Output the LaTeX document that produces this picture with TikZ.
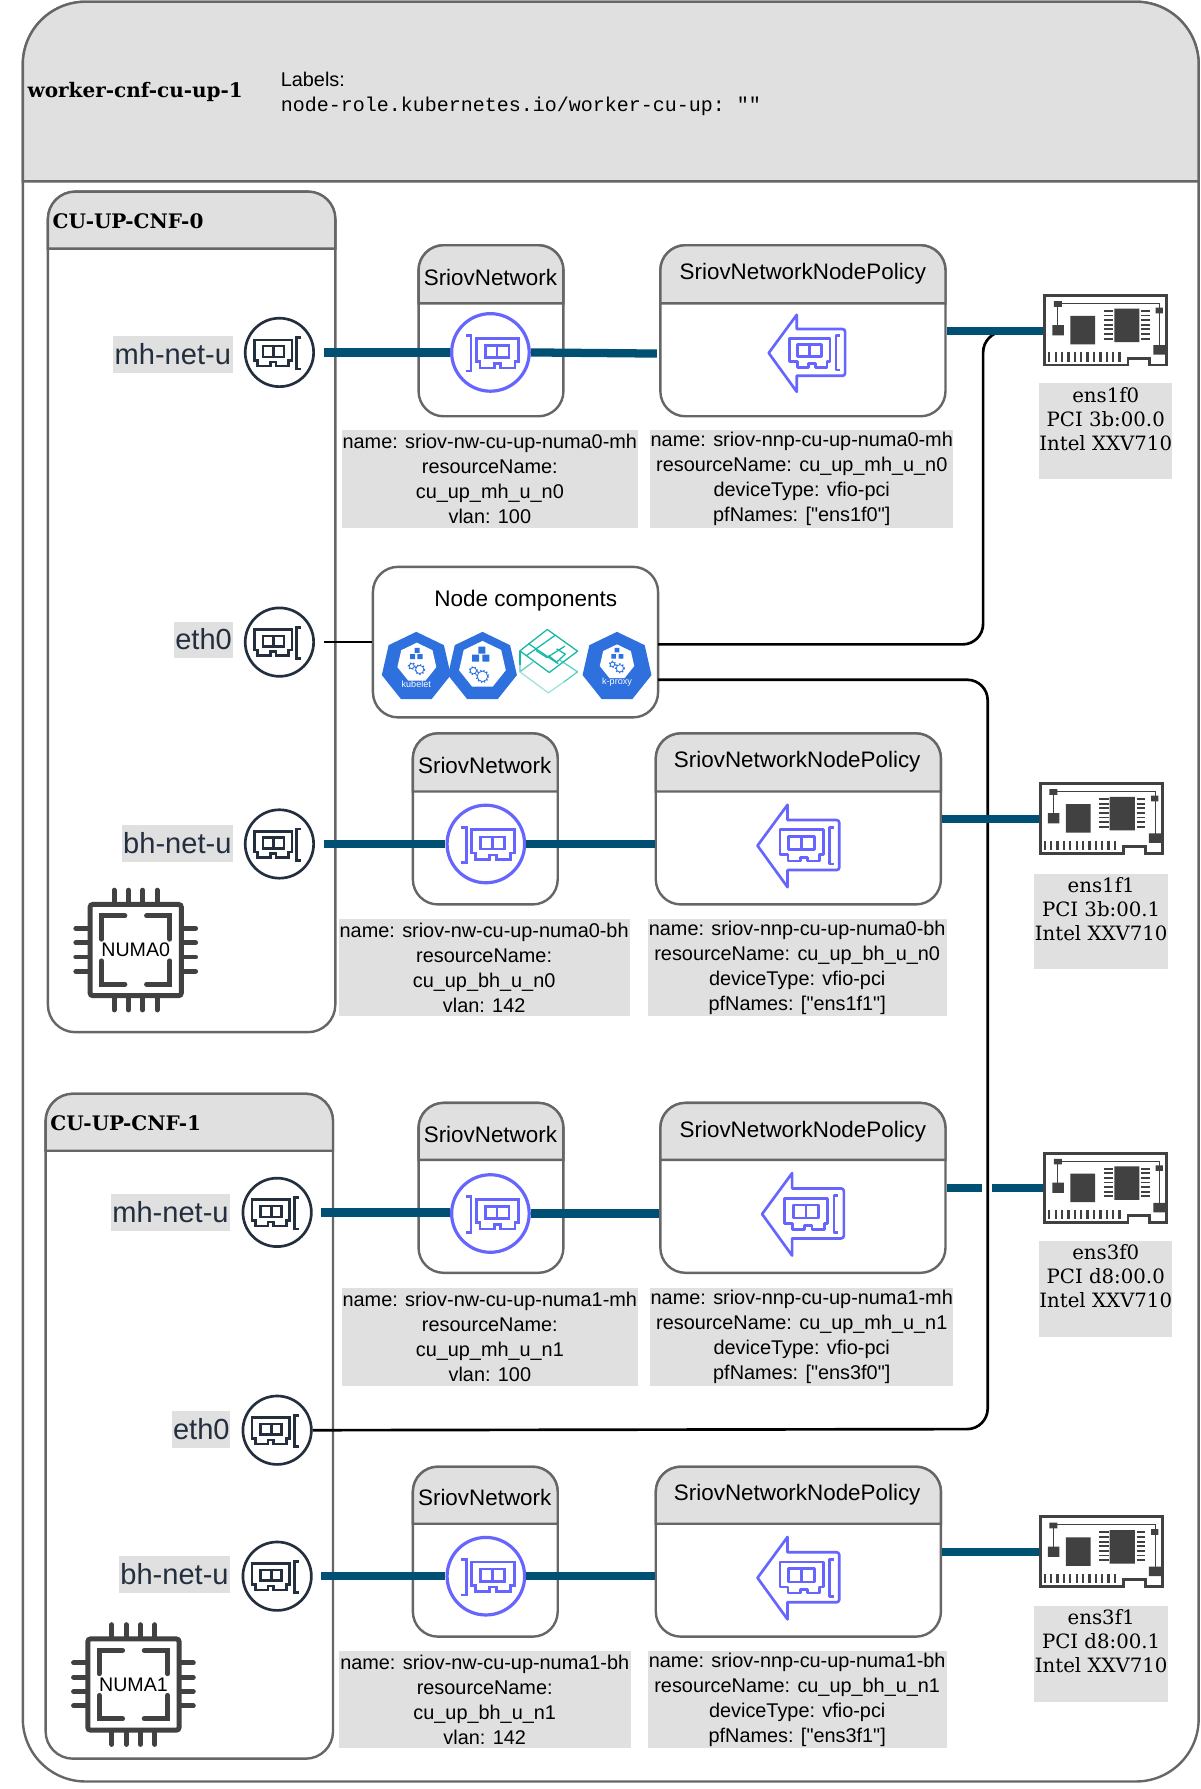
\documentclass[tikz,border=0pt]{standalone}
\usepackage{fontspec}
\usetikzlibrary{shapes.geometric,calc}
\setmainfont{Liberation Sans}
\setmonofont{Liberation Mono}
\newfontfamily\plainsans{Liberation Sans}
\newfontfamily\serifface{DejaVu Serif}
\definecolor{headgrey}{HTML}{E0E0E0}
\definecolor{frame}{HTML}{666666}
\definecolor{linkblue}{HTML}{005073}
\definecolor{violetline}{HTML}{6666FF}
\definecolor{inkdark}{HTML}{232F3E}
\definecolor{hwgrey}{HTML}{414141}
\definecolor{kblue}{HTML}{2D70DE}
\definecolor{tealline}{HTML}{14B8A6}
\definecolor{tealmid}{HTML}{5CCFC2}
\definecolor{tealpale}{HTML}{9FE3DA}
\def\UU{0.8554pt}
\tikzset{
  panelframe/.style={draw=frame,fill=white,line width=1.8pt,inner sep=0pt},
  panelhead/.style={draw=frame,fill=headgrey,line width=1.8pt},
  greyblock/.style={fill=headgrey,inner sep=0pt,align=center,font=\plainsans\fontsize{14.9}{18.8}\selectfont},
  netlabel/.style={fill=headgrey,inner sep=0pt,text=inkdark,font=\fontsize{21.8}{24}\selectfont},
  niclabel/.style={fill=headgrey,inner sep=0pt,align=center,font=\serifface\fontsize{14.8}{18}\selectfont},
  boxtitle/.style={inner sep=0pt,font=\fontsize{16.8}{20}\selectfont},
  cnftitle/.style={inner sep=0pt,anchor=west,font=\serifface\bfseries\fontsize{15}{18}\selectfont},
  ifdark/.style={circle,draw=inkdark,line width=2pt,fill=white,minimum size={60*\UU},inner sep=0pt},
  ifviolet/.style={circle,draw=violetline,line width=2.4pt,fill=white,minimum size={68*\UU},inner sep=0pt},
  thicklink/.style={draw=linkblue,line width=6.2pt},
  thinlink/.style={draw=black,line width=2pt,rounded corners=15.4pt},
  nicspot/.style={minimum width={109*\UU},minimum height={64*\UU},inner sep=0pt},
  kubehex/.style={regular polygon,regular polygon sides=7,fill=kblue,inner sep=0pt},
  kubeinner/.style={regular polygon,regular polygon sides=7,fill=white,inner sep=0pt},
  kubetext/.style={inner sep=0pt,text=white,font=\fontsize{6.8}{8}\selectfont},
}
% name x1 y1 x2 y2 yhead radius
\newcommand\panelbox[7]{%
  \node[panelframe,minimum width={(#4-#2)*\UU},minimum height={(#5-#3)*\UU},rounded corners={#7*\UU}] (#1) at ({(#2+#4)/2},{(#3+#5)/2}) {};
  \path[panelhead] (#2,#6) [rounded corners={#7*\UU}] -- (#2,#3) -- (#4,#3) [sharp corners] -- (#4,#6) -- cycle;
}
% style name x1 y1 x2 y2 text
\newcommand\txtblock[7][]{%
  \node[#2,minimum width={(#5-#3)*\UU},minimum height={(#6-#4)*\UU},#1] (#7) at ({(#3+#5)/2},{(#4+#6)/2}) }
% x y xs ys color
\newcommand\cardart[5]{%
  \begin{scope}[shift={(#1,#2)},xscale=#3,yscale=#4,draw=#5,line width=2pt,line join=miter]
    \draw (-22,-11) -- (11,-11) -- (11,7) -- (8,7) -- (8,12) -- (-3,12) -- (-3,8.5) -- (-8,8.5) -- (-8,12) -- (-19,12) -- (-19,7) -- (-22,7) -- cycle;
    \draw (-14.5,-5.5) rectangle (4,4);
    \draw (-5.2,-5.5) -- (-5.2,4);
    \draw (19,-13) -- (15,-13) -- (15,14.5) -- (19,14.5);
  \end{scope}
}
% x y scale
\newcommand\arrowart[3]{%
  \begin{scope}[shift={(#1,#2)},scale=#3,draw=violetline,line width=2pt,line join=round]
    \draw (-33,-0.5) -- (-8.4,-34) -- (-8.4,-21.5) -- (30,-21.5) [rounded corners=2pt] -- (34,-21.5) -- (34,19.5) [sharp corners] -- (-8.4,19.5) -- (-8.4,33.5) -- cycle;
    \draw (-14.5,-13.5) -- (20.8,-13.5) -- (20.8,7) -- (18,7) -- (18,12) -- (8,12) -- (8,9) -- (2,9) -- (2,12) -- (-8,12) -- (-8,7) -- (-14.5,7) -- cycle;
    \draw (-7.5,-8) rectangle (13.5,2.8);
    \draw (3,-8) -- (3,2.8);
    \draw (29.5,-15.6) -- (26,-15.6) -- (26,14.5) -- (29.5,14.5);
  \end{scope}
}
% nic artwork; x y = top-left corner
\newcommand\nicart[2]{%
  \begin{scope}[shift={(#1,#2)}]
    \draw[hwgrey,fill=white,line width=2.2pt,line join=miter] (1,1) -- (108,1) -- (108,62) -- (93,62) -- (93,56) -- (74,56) -- (74,62) -- (1,62) -- cycle;
    \fill[hwgrey] (9,6) rectangle (16,11) (7.7,27) rectangle (17.8,36) (98.3,11.7) rectangle (104.7,16.7) (96.3,44.7) rectangle (107,53) (23.5,19) rectangle (45.3,44) (62,12.6) rectangle (84,42);
    \draw[hwgrey,line width=0.8pt] (12.4,11) -- (12.4,28) (16,8) -- (102,8) -- (102,45);
    \foreach \n in {0,...,6} {
      \draw[hwgrey,line width=1.4pt] (53,{14.6+\n*4.05}) -- (61,{14.6+\n*4.05}) (85.6,{14.6+\n*4.05}) -- (93.3,{14.6+\n*4.05});
    }
    \foreach \n in {0,...,11} {
      \draw[hwgrey,line width=1.7pt] ({5+\n*5.6},51) -- ({5+\n*5.6},59);
    }
  \end{scope}
}
% name x y label
\newcommand\chipart[4]{%
  \begin{scope}[shift={(#2,#3)},hwgrey,line cap=round,line width=3.7pt]
    \draw[rounded corners=2pt] (-40,-40) rectangle (40,40);
    \foreach \p in {-19,-6.4,6.1,18.7} {
      \draw (\p,-52.5) -- (\p,-41) (\p,41) -- (\p,52.5) (-52.5,\p) -- (-41,\p) (41,\p) -- (52.5,\p);
    }
    \draw (-30,-9.5) -- (-30,-30) -- (-9.5,-30) (9.5,-30) -- (30,-30) -- (30,-9.5) (-30,9.5) -- (-30,30) -- (-9.5,30) (9.5,30) -- (30,30) -- (30,9.5);
  \end{scope}
  \node[inner sep=0pt,font=\fontsize{14.7}{17}\selectfont] (#1) at (#2,#3) {#4};
}
% x y r
\newcommand\gearart[3]{%
  \draw[kblue,line width=0.6pt] (#1,#2) circle [radius=#3];
  \draw[kblue,line width=1.1pt,dash pattern=on 0.9pt off 1.5pt] (#1,#2) circle [radius=#3+0.6];
}
\begin{document}
\begin{tikzpicture}[x=0.8554pt,y=-0.8554pt]
\useasboundingbox (0,0) rectangle (1053,1568.6);

% outer node
\panelbox{worker}{20}{1.5}{1051}{1562}{159}{55}
\node[cnftitle] (workertitle) at (24,81) {worker-cnf-cu-up-1};
\node[inner sep=0pt,anchor=west,font=\fontsize{14.9}{18}\selectfont] (labelshead) at (246,70) {Labels:};
\node[inner sep=0pt,anchor=west,font=\ttfamily\fontsize{15}{18}\selectfont] (labelsval) at (246,93.5) {node-role.kubernetes.io/worker-cu-up: ""};

% CNFs
\panelbox{cnfa}{42}{168}{294}{905}{218}{24}
\node[cnftitle] (cnfatitle) at (46,194) {CU-UP-CNF-0};
\panelbox{cnfb}{40}{959}{292}{1542}{1009}{24}
\node[cnftitle] (cnfbtitle) at (44,985) {CU-UP-CNF-1};

% SriovNetwork
\panelbox{netA}{367}{215}{494}{365}{266}{22}
\panelbox{netB}{362}{643}{489}{793}{694}{22}
\panelbox{netC}{367}{967}{494}{1116}{1017}{22}
\panelbox{netD}{362}{1286}{489}{1435}{1336}{22}
\node[boxtitle] (netAt) at (430,243) {SriovNetwork};
\node[boxtitle] (netBt) at (425,671) {SriovNetwork};
\node[boxtitle] (netCt) at (430,995) {SriovNetwork};
\node[boxtitle] (netDt) at (425,1313) {SriovNetwork};

% policies
\panelbox{polA}{579}{215}{829}{365}{266}{22}
\panelbox{polB}{575}{643}{825}{793}{694}{22}
\panelbox{polC}{579}{967}{829}{1116}{1017}{22}
\panelbox{polD}{575}{1286}{825}{1435}{1336}{22}
\node[boxtitle] (polAt) at (704,240) {SriovNetworkNodePolicy};
\node[boxtitle] (polBt) at (699,668) {SriovNetworkNodePolicy};
\node[boxtitle] (polCt) at (704,992.5) {SriovNetworkNodePolicy};
\node[boxtitle] (polDt) at (699,1310.5) {SriovNetworkNodePolicy};

% interface circles
\node[ifdark] (ifA) at (245,309) {};
\node[ifdark] (ifE0) at (245,563) {};
\node[ifdark] (ifB) at (245,740) {};
\node[ifdark] (ifC) at (243,1063) {};
\node[ifdark] (ifE1) at (243,1254) {};
\node[ifdark] (ifD) at (243,1382) {};
\foreach \px/\py in {245/309,245/563,245/740,243/1063,243/1254,243/1382} {\cardart{\px}{\py}{1}{1}{inkdark}}

% interface labels
\txtblock[]{netlabel}{99}{295}{204}{327}{lblA} {\raisebox{1.6pt}{mh-net-u}};
\txtblock[]{netlabel}{153}{545}{204}{577}{lblE0} {\raisebox{1pt}{eth0}};
\txtblock[]{netlabel}{107}{723}{204}{756}{lblB} {\raisebox{1pt}{bh-net-u}};
\txtblock[]{netlabel}{97}{1047}{202}{1079}{lblC} {\raisebox{1pt}{mh-net-u}};
\txtblock[]{netlabel}{151}{1237}{202}{1270}{lblE1} {\raisebox{0.5pt}{eth0}};
\txtblock[]{netlabel}{104}{1364}{202}{1397}{lblD} {\raisebox{0.5pt}{bh-net-u}};

% NICs
\node[nicspot] (nicA) at (969.5,290) {};
\node[nicspot] (nicB) at (965.5,718) {};
\node[nicspot] (nicC) at (969.5,1041.5) {};
\node[nicspot] (nicD) at (965.5,1360.5) {};
\coordinate (busA) at (862,291);
\coordinate (busB) at (866,1253);
\coordinate (gapL) at (861,1041.5);
\coordinate (gapR) at (870,1041.5);

% node components
\node[panelframe,rounded corners={22*\UU},minimum width={250*\UU},minimum height={132*\UU}] (comps) at (452,563) {};
\node[boxtitle,font=\fontsize{16.9}{20}\selectfont] (compst) at (461,526.5) {Node components};
\coordinate (compsOutA) at (577,565);
\coordinate (compsOutB) at (577,596);

% thin connectors
\draw[thinlink,shorten <=6.5pt] (ifE0.east) -- (comps.west);
\draw[thinlink] (compsOutA) -| (busA) -- (nicA.west);
\draw[thinlink] (compsOutB) -| (busB) -- (ifE1.east);

% violet interfaces
\node[ifviolet] (sA) at (430,309) {};
\node[ifviolet] (sB) at (426,740) {};
\node[ifviolet] (sC) at (430,1064) {};
\node[ifviolet] (sD) at (426,1382) {};
\foreach \px/\py in {430/309,426/740,430/1064,426/1382} {\cardart{\px}{\py}{-1.13}{1.13}{violetline}}

% policy arrows
\arrowart{707}{310}{1}
\arrowart{699.5}{742}{1.07}
\arrowart{703.5}{1065}{1.07}
\arrowart{699.5}{1384}{1.07}

% thick connectors
\draw[thicklink,shorten <=6.5pt] (ifA.east) -- (sA.west);
\draw[thicklink] (sA.east) -- ($(sA.east -| polA.west)+(-2,1)$);
\draw[thicklink,shorten <=6.5pt] (ifB.east) -- (sB.west);
\draw[thicklink] (sB.east) -- (sB.east -| polB.west);
\draw[thicklink,shorten <=6.5pt] (ifC.east) -- (ifC.east -| sC.west);
\draw[thicklink] (sC.east) -- (sC.east -| polC.west);
\draw[thicklink,shorten <=6.5pt] (ifD.east) -- (sD.west);
\draw[thicklink] (sD.east) -- (sD.east -| polD.west);
\draw[thicklink] (polA.east) -- (nicA.west);
\draw[thicklink] (polB.east) -- (nicB.west);
\draw[thicklink] (polC.east) -- (gapL);
\draw[thicklink] (gapR) -- (nicC.west);
\draw[thicklink] (polD.east) -- (nicD.west);

\nicart{915}{258}
\nicart{911}{686}
\nicart{915}{1010}
\nicart{911}{1329}

% grey text blocks
\txtblock[]{greyblock}{300}{377}{559}{463}{txtA} {name: sriov-nw-cu-up-numa0-mh\\resourceName:\\cu\_up\_mh\_u\_n0\\vlan: 100};
\txtblock[]{greyblock}{570}{377}{836}{463}{ptxtA} {name: sriov-nnp-cu-up-numa0-mh\\resourceName: cu\_up\_mh\_u\_n0\\deviceType: vfio-pci\\pfNames: ["ens1f0"]};
\txtblock[]{greyblock}{297}{806}{552}{891}{txtB} {name: sriov-nw-cu-up-numa0-bh\\resourceName:\\cu\_up\_bh\_u\_n0\\vlan: 142};
\txtblock[]{greyblock}{568}{806}{830}{891}{ptxtB} {name: sriov-nnp-cu-up-numa0-bh\\resourceName: cu\_up\_bh\_u\_n0\\deviceType: vfio-pci\\pfNames: ["ens1f1"]};
\txtblock[]{greyblock}{300}{1129}{559}{1215}{txtC} {name: sriov-nw-cu-up-numa1-mh\\resourceName:\\cu\_up\_mh\_u\_n1\\vlan: 100};
\txtblock[]{greyblock}{570}{1129}{836}{1215}{ptxtC} {name: sriov-nnp-cu-up-numa1-mh\\resourceName: cu\_up\_mh\_u\_n1\\deviceType: vfio-pci\\pfNames: ["ens3f0"]};
\txtblock[]{greyblock}{297}{1448}{553}{1533}{txtD} {name: sriov-nw-cu-up-numa1-bh\\resourceName:\\cu\_up\_bh\_u\_n1\\vlan: 142};
\txtblock[]{greyblock}{568}{1448}{830}{1533}{ptxtD} {name: sriov-nnp-cu-up-numa1-bh\\resourceName: cu\_up\_bh\_u\_n1\\deviceType: vfio-pci\\pfNames: ["ens3f1"]};

% NIC labels
\txtblock[]{niclabel}{911}{336}{1028}{420}{nlA} {\raisebox{0.8pt}{ens1f0}\\\raisebox{0.8pt}{PCI 3b:00.0}\\\raisebox{0.8pt}{Intel XXV710}\\\mbox{}};
\txtblock[]{niclabel}{907}{766}{1024}{850}{nlB} {\raisebox{0.8pt}{ens1f1}\\\raisebox{0.8pt}{PCI 3b:00.1}\\\raisebox{0.8pt}{Intel XXV710}\\\mbox{}};
\txtblock[]{niclabel}{911}{1088}{1028}{1172}{nlC} {\raisebox{0.8pt}{ens3f0}\\\raisebox{0.8pt}{PCI d8:00.0}\\\raisebox{0.8pt}{Intel XXV710}\\\mbox{}};
\txtblock[]{niclabel}{907}{1408}{1024}{1492}{nlD} {\raisebox{0.8pt}{ens3f1}\\\raisebox{0.8pt}{PCI d8:00.1}\\\raisebox{0.8pt}{Intel XXV710}\\\mbox{}};

% NUMA chips
\chipart{numaA}{119}{833}{NUMA0}
\chipart{numaB}{117}{1477}{NUMA1}

% kubernetes icons
\node[kubehex,minimum size={62*\UU}] (hexA) at (365,585) {};
\node[kubeinner,minimum size={35*\UU}] (hexAin) at (365.5,581) {};
\fill[kblue] (363.5,568) rectangle (368,572.5) (359.5,573.5) rectangle (364,578) (366,573.5) rectangle (370.5,578);
\gearart{361}{584}{2.2}
\gearart{368}{587}{3.6}
\node[kubetext] (hexAt) at (365,600) {kubelet};

\node[kubehex,minimum size={62*\UU}] (hexB) at (423,585) {};
\node[kubeinner,minimum size={42*\UU}] (hexBin) at (423,583) {};
\fill[kblue] (419.5,567) rectangle (425.5,573) (414,574) rectangle (420,580) (423,574) rectangle (429,580);
\gearart{415}{588}{2.8}
\gearart{423}{593}{4.6}

\begin{scope}[shift={(481,580)},scale=0.2924,line width=0.95pt,line join=round]
  \draw[tealline] (-86,-32) -- (-86,10);
  \draw[tealmid] (-86,10) -- (-86,31) -- (-46,1);
  \draw[tealmid] (34,-4) -- (87,31) -- (45,62);
  \draw[tealpale] (-86,31) -- (-1,94) -- (45,62);
  \draw[tealline] (-4,-96) -- (87,-31) -- (2,33) -- (-86,-32) -- cycle;
  \draw[tealline] (-61,-54) -- (29,7);
  \draw[tealline] (-66,-18) -- (19,-78);
  \draw[tealline] (-38,-33) -- (-5,-12) -- (49,-46);
  \draw[tealline] (0,-18) -- (24,2) -- (50,-22) -- (24,-38);
\end{scope}

\node[kubehex,minimum size={62*\UU}] (hexD) at (541,585) {};
\node[kubeinner,minimum size={31*\UU}] (hexDin) at (541,580.5) {};
\fill[kblue] (539,568) rectangle (543,572) (536,573.5) rectangle (540,577.5) (542.5,573.5) rectangle (546.5,577.5);
\gearart{537}{582.5}{2}
\gearart{543.5}{586}{3.2}
\node[kubetext] (hexDt) at (541,598.5) {k-proxy};
\end{tikzpicture}
\end{document}
